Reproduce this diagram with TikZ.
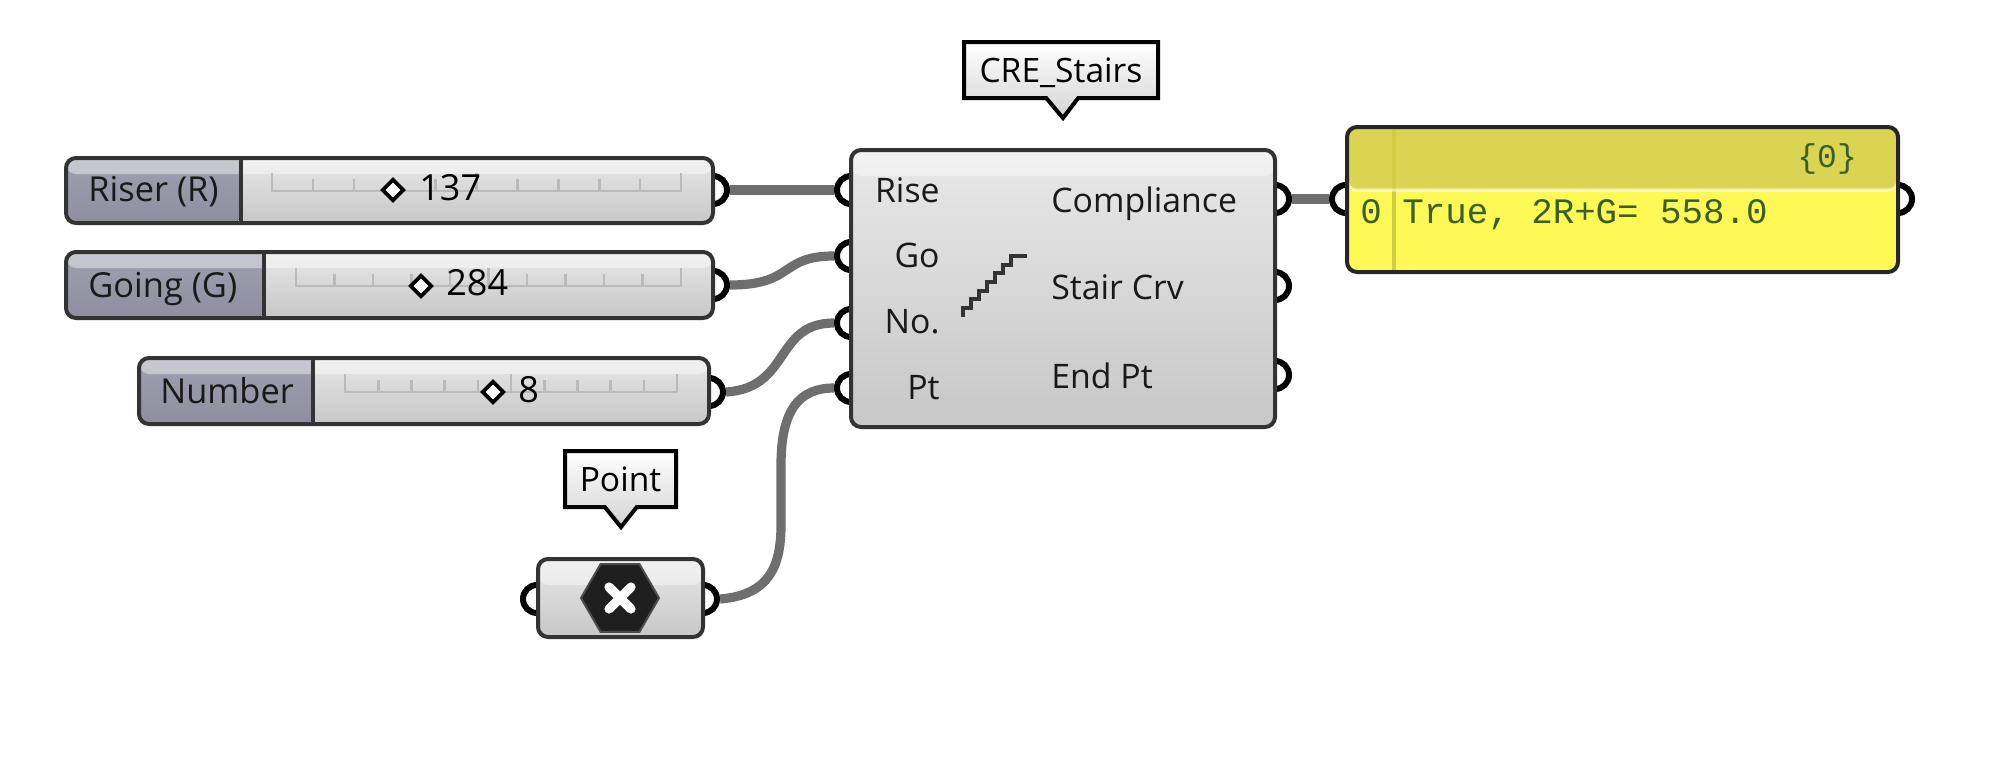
\documentclass[tikz,border=0pt]{standalone}
\usepackage{fontspec}
\setmainfont{Open Sans}
\newfontfamily\monof{Liberation Mono}
\usetikzlibrary{shapes.geometric,shapes.callouts}
\definecolor{edge}{HTML}{333333}
\definecolor{wirec}{HTML}{6E6E6E}
\definecolor{panelhead}{HTML}{D9D452}
\definecolor{panelbody}{HTML}{FFF955}
\definecolor{paneltext}{HTML}{3A6028}
\definecolor{labtop}{HTML}{A0A0B0}
\definecolor{labbot}{HTML}{8E8E9E}
\tikzset{
  pxbox/.style n args={4}{minimum width={(#3-#1)*0.5pt},minimum height={(#4-#2)*0.5pt},at={({(#1+#3)/2},{(#2+#4)/2})}},
  portc/.style={circle,draw=black,fill=white,line width=3pt,minimum size=14pt,inner sep=0pt},
  wire/.style={draw=wirec,line width=4.6pt},
  comp/.style={rectangle,rounded corners=5pt,draw=edge,line width=2pt,inner sep=0pt,top color=black!9,bottom color=black!22},
  rim/.style={draw=white,opacity=.55,line width=1.6pt,rounded corners=5pt},
  compband/.style={comp,path picture={
    \fill[white,opacity=.42] (path picture bounding box.north west) rectangle ([yshift=-13pt]path picture bounding box.north east);
    \draw[rim] (path picture bounding box.north west) rectangle (path picture bounding box.south east);}},
  sliderbox/.style={comp,path picture={
    \fill[top color=labtop,bottom color=labbot] (path picture bounding box.north west) rectangle ([xshift={(#1)*0.5pt}]path picture bounding box.south west);
    \fill[white,opacity=.42] (path picture bounding box.north west) rectangle ([yshift=-8pt]path picture bounding box.north east);
    \draw[rim] (path picture bounding box.north west) rectangle (path picture bounding box.south east);
    \draw[edge,line width=2pt] ([xshift={(#1)*0.5pt}]path picture bounding box.north west) -- ([xshift={(#1)*0.5pt}]path picture bounding box.south west);}},
  panelbox/.style={rectangle,rounded corners=5pt,draw=black!85,line width=2pt,inner sep=0pt,fill=panelbody,path picture={
    \fill[panelhead] (path picture bounding box.north west) rectangle ([yshift=-31.5pt]path picture bounding box.north east);
    \draw[black!18!panelbody,line width=1.6pt] ([xshift=23.5pt]path picture bounding box.north west) -- ([xshift=23.5pt]path picture bounding box.south west);
    \draw[rim] (path picture bounding box.north west) rectangle ([yshift=-31.5pt]path picture bounding box.north east);
  }},
  tip/.style={rectangle callout,draw=black,line width=2pt,miter limit=10,inner sep=0pt,top color=white,bottom color=black!17,text height=14pt,text depth=2pt,font=\fontsize{16.8}{20}\selectfont,callout pointer width=16pt},
  lab/.style={inner sep=0pt,font=\fontsize{16.9}{20}\selectfont,text=black!90},
  sl/.style={inner sep=0pt,anchor=base west,font=\fontsize{17.2}{20}\selectfont,text=black!90},
  val/.style={inner sep=0pt,anchor=base west,font=\fontsize{18}{20}\selectfont,text=black},
  knob/.style={diamond,aspect=1,draw=black,fill=white,line width=1.9pt,minimum size=11pt,inner sep=0pt},
  rail/.style={draw=black!27,line width=1.3pt},
  pan/.style={inner sep=0pt,anchor=base west,text=paneltext,font=\monof\fontsize{17.9}{20}\selectfont},
}
\newcommand{\railticks}[3]{%
  \draw[rail] (#1,#3-18) -- (#1,#3) -- (#2,#3) -- (#2,#3-18);
  \pgfmathsetmacro{\dxr}{(#2-#1)/10}
  \foreach \k in {1,...,9}{
    \pgfmathsetmacro{\xr}{#1+\k*\dxr}
    \pgfmathsetmacro{\hr}{\k==5?18:12}
    \draw[rail] (\xr,#3-\hr) -- (\xr,#3);
  }}
\begin{document}
\begin{tikzpicture}[x=0.5pt,y=-0.5pt]
\useasboundingbox (0,0) rectangle (1997,771);
% ports
\node[portc] (oR) at (713,190) {};
\node[portc] (oG) at (713,285) {};
\node[portc] (oN) at (709,392) {};
\node[portc] (oP) at (703,599) {};
\node[portc] (iX) at (537,599) {};
\node[portc] (iR) at (851,190) {};
\node[portc] (iG) at (851,256) {};
\node[portc] (iN) at (851,323) {};
\node[portc] (iP) at (851,388) {};
\node[portc] (oC) at (1275,199) {};
\node[portc] (oS) at (1275,286) {};
\node[portc] (oE) at (1275,375) {};
\node[portc] (iV) at (1346,199) {};
\node[portc] (oV) at (1898,199) {};
% wires
\coordinate (wa) at (781,525);
\coordinate (wb) at (781,465);
\draw[wire] (oR.east) -- (iR.west);
\draw[wire] (oG.east) .. controls +(65,0) and +(-55,0) .. (iG.west);
\draw[wire] (oN.east) .. controls +(65,-4) and +(-60,0) .. (iN.west);
\draw[wire] (oP.east) .. controls +(50,-4) and +(0,40) .. (wa) -- (wb) .. controls +(0,-55) and +(-35,0) .. (iP.west);
\draw[wire] (oC.east) -- (iV.west);
% sliders
\node[sliderbox=175,pxbox={66}{158}{713}{223}] (riser) {};
\node[sliderbox=198,pxbox={66}{252}{713}{318}] (going) {};
\node[sliderbox=174,pxbox={139}{358}{709}{424}] (number) {};
\railticks{272}{681}{191}
\railticks{296}{681}{286}
\railticks{345}{677}{392}
\node[sl] (riserl) at (88,201) {Riser (R)};
\node[sl] (goingl) at (88,297) {Going (G)};
\node[sl] (numl) at (160,403) {Number};
\node[knob] (k1) at (393,190) {};
\node[knob] (k2) at (421,286) {};
\node[knob] (k3) at (493,392) {};
\node[val] (v1) at (419,200) {137};
\node[val] (v2) at (446,295) {284};
\node[val] (v3) at (518,402) {8};
% main component
\node[compband,pxbox={851}{150}{1275}{427}] (main) {};
\node[lab,anchor=base east] (tRise) at (940,202) {Rise};
\node[lab,anchor=base east] (tGo) at (940,267) {Go};
\node[lab,anchor=base east] (tNo) at (940,333) {No.};
\node[lab,anchor=base east] (tPt) at (940,399) {Pt};
\node[lab,anchor=base west] (tC) at (1051,212) {Compliance};
\node[lab,anchor=base west] (tS) at (1051,299) {Stair Crv};
\node[lab,anchor=base west] (tE) at (1051,388) {End Pt};
\draw[black!80,line width=1.8pt] (963,317) -- (963,308) -- (971,308) -- (971,299) -- (979,299) -- (979,291) -- (987,291) -- (987,282) -- (995,282) -- (995,273) -- (1003,273) -- (1003,265) -- (1011,265) -- (1011,256) -- (1027,256);
% tooltips
\node[tip,callout absolute pointer={(1063,118)},pxbox={964}{42}{1158}{98}] (ttS) {CRE\_Stairs};
\node[tip,callout absolute pointer={(621,527)},pxbox={565}{451}{676}{507}] (ttP) {Point};
% point param
\node[compband,pxbox={538}{559}{703}{637}] (pointc) {};
\node[regular polygon,regular polygon sides=6,minimum size=39pt,inner sep=0pt,fill=black!88,draw=black!70,line width=1pt] (hex) at (620,598) {};
\draw[white,line width=4.6pt,line cap=round] (609,587) -- (631,609) (631,587) -- (609,609);
% panel
\node[panelbox,pxbox={1347}{127}{1898}{272}] (panel) {};
\node[pan,font=\monof\fontsize{16.5}{20}\selectfont] (pidx) at (1797,167) {\{0\}};
\node[pan] (p0) at (1360,223) {0};
\node[pan] (ptxt) at (1402,223) {True, 2R+G= 558.0};
\end{tikzpicture}
\end{document}
